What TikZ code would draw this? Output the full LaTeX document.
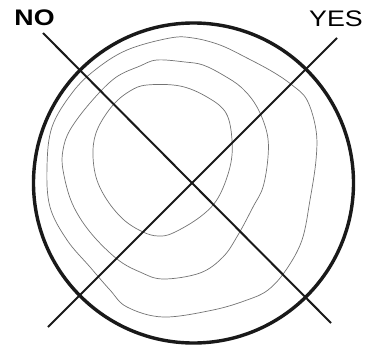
\documentclass[tikz,border=0pt]{standalone}
\usepackage{fontspec}
\setmainfont{Liberation Sans}
\usetikzlibrary{positioning}

\newcommand{\widelabel}[1]{\scalebox{1.19}[1]{#1}}

\begin{document}
\begin{tikzpicture}[x=1pt,y=-1pt,
  rim/.style={line width=3.4pt,black!90},
  cut/.style={line width=2pt,black!90},
  ring/.style={line width=0.7pt,black!55},
  tag/.style={font=\fontsize{22.5}{27}\selectfont,inner sep=0pt}]
\useasboundingbox (0,0) rectangle (366,345);

\coordinate (O) at (193.5,183);
\coordinate (N1) at (43,33);
\coordinate (N2) at (331,323);
\coordinate (Y1) at (337,38);
\coordinate (Y2) at (48,327);

% contour rings, inner to outer
\draw[ring] plot[smooth cycle,tension=0.6] coordinates {
  (147,85) (180,86) (207,97) (226,113) (232,140) (230,167) (218,198)
  (200,217) (173,233) (158,236) (143,232) (124,220) (107,200) (96,177)
  (93,150) (98,128) (113,105) (130,91)};
\draw[ring] plot[smooth cycle,tension=0.6] coordinates {
  (157,60) (185,62) (203,65) (223,75) (242,88) (257,107) (267,133)
  (268,157) (263,187) (253,207) (238,235) (223,257) (200,273) (163,279)
  (140,272) (117,259) (90,232) (72,203) (63,170) (63,150) (70,130)
  (90,103) (115,78) (140,66)};
\draw[ring] plot[smooth cycle,tension=0.6] coordinates {
  (170,38) (193,38) (220,45) (247,58) (273,72) (292,85) (307,100)
  (316,130) (316,160) (310,200) (302,240) (286,270) (268,290) (247,300)
  (213,310) (163,317) (127,307) (110,290) (90,267) (67,240) (50,207)
  (47,167) (52,127) (72,93) (95,70) (127,50)};

\draw[rim] (O) circle (160);
\draw[cut] (N1) -- (N2);
\draw[cut] (Y1) -- (Y2);

\node[tag] (no) at (34.5,18.2) {\widelabel{\bfseries NO}};
\node[tag] (yes) at (336,18.5) {\widelabel{YES}};
\end{tikzpicture}
\end{document}
